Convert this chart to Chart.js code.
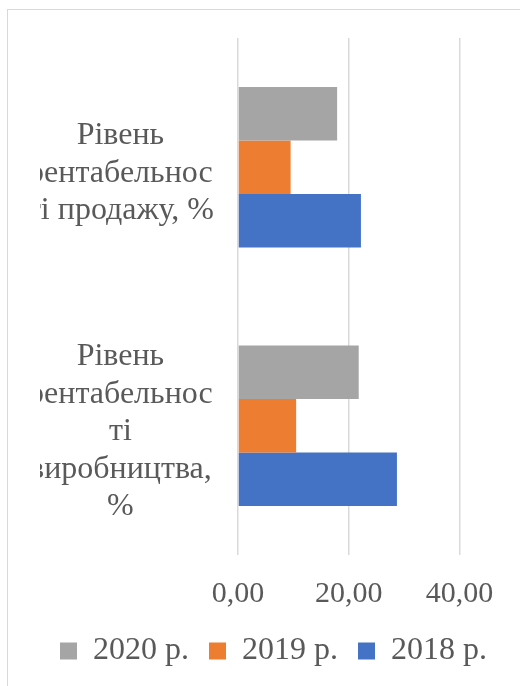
<!DOCTYPE html>
<html>
<head>
<meta charset="utf-8">
<script src="https://cdn.jsdelivr.net/npm/chart.js@4/dist/chart.umd.min.js"></script>
<style>
    body { margin: 0; overflow: hidden; background: #fff; width: 520px; height: 686px; position: relative; }
    #frame { position: absolute; left: 7px; top: 9px; width: 600px; height: 700px; border: 1.5px solid #d9d9d9; }
    #chart_box { position: absolute; left: 0; top: 0; }
</style>
</head>
<body>
<div id="frame"></div>
<div id="chart_box"><canvas id="bar_chart" width="625" height="686"></canvas></div>
<script>
const barCanvas = document.getElementById('bar_chart');

// Data
const categories = [
    ['Рівень', 'рентабельнос', 'ті продажу, %'],
    ['Рівень', 'рентабельнос', 'ті', 'виробництва,', '%']
];
const years = ['2020 р.', '2019 р.', '2018 р.'];
const values2020 = [17.9, 21.8];
const values2019 = [9.5, 10.5];
const values2018 = [22.2, 28.7];
const xTicks = [0, 20, 40, 60];

const colors = ['#a5a5a5', '#ed7d31', '#4472c4'];
const textColor = '#595959';
const serif = "'Liberation Serif', 'Times New Roman', serif";

const barData = {
    labels: categories,
    datasets: [values2020, values2019, values2018].map((vals, i) => ({
        label: years[i],
        data: vals,
        backgroundColor: colors[i],
        borderWidth: 0,
        categoryPercentage: 0.62,
        barPercentage: 1.0
    }))
};

const barOptions = {
    indexAxis: 'y',
    responsive: false,
    animation: false,
    layout: {
        padding: { left: 40, top: 38, right: 0, bottom: 9 }
    },
    scales: {
        x: {
            min: 0,
            max: 60,
            afterBuildTicks: scale => {
                scale.ticks = xTicks.map(v => ({ value: v }));
            },
            // fixed band height so the plot ends where the picture's does
            afterFit: scale => { scale.height = 60; },
            grid: { color: '#d9d9d9', lineWidth: 1.5, drawTicks: false },
            border: { display: false },
            ticks: {
                color: textColor,
                font: { family: serif, size: 30 },
                padding: 21,
                callback: v => v.toFixed(2).replace('.', ',')
            }
        },
        y: {
            grid: { display: false },
            border: { display: false },
            afterFit: scale => {
                scale.width = 198;
                scale.paddingTop = 0;
                scale.paddingBottom = 0;
            },
            ticks: {
                color: textColor,
                crossAlign: 'center',
                padding: 16,
                labelOffset: 6,
                font: { family: serif, size: 32, lineHeight: 1.17 }
            }
        }
    },
    plugins: {
        legend: {
            position: 'bottom',
            align: 'start',
            labels: {
                boxWidth: 17,
                boxHeight: 17,
                padding: 20,
                color: textColor,
                font: { family: serif, size: 32 }
            }
        },
        tooltip: { enabled: false }
    }
};

let barChart = new Chart(barCanvas, {
    type: 'bar',
    data: barData,
    options: barOptions
});
</script>
</body>
</html>
